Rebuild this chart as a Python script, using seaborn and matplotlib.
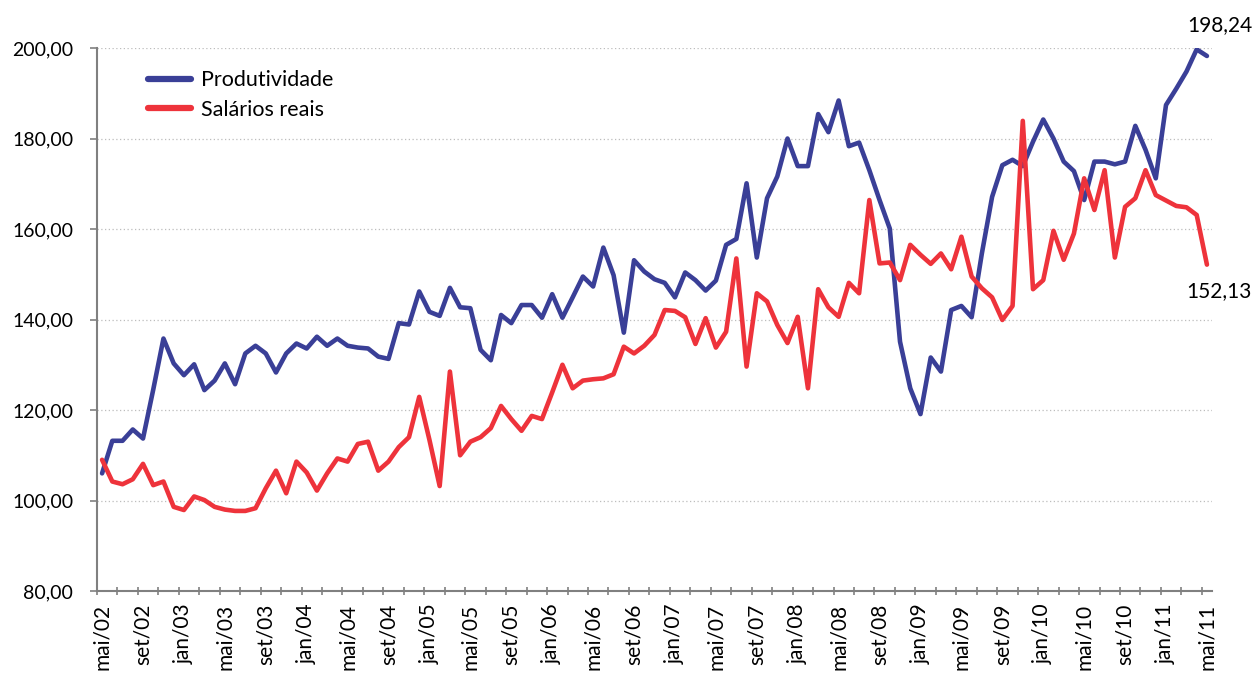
#!/usr/bin/env python3
"""Produtividade vs salários reais, mai/02 - mai/11 (índice)."""

import pandas as pd
import matplotlib.pyplot as plt
import matplotlib.ticker as mticker
import seaborn as sns

# ============================== DATA ========================================
PRODUTIVIDADE = [
    106.0, 113.2, 113.2, 115.7, 113.7, 124.5, 135.8, 130.3, 127.7, 130.1,
    124.4, 126.5, 130.3, 125.7, 132.5, 134.2, 132.5, 128.3, 132.5, 134.7,
    133.6, 136.2, 134.2, 135.8, 134.2, 133.8, 133.6, 131.8, 131.3, 139.2,
    138.9, 146.2, 141.7, 140.8, 147.0, 142.7, 142.5, 133.3, 131.0, 141.0,
    139.2, 143.2, 143.2, 140.4, 145.6, 140.4, 144.9, 149.5, 147.3, 155.9,
    149.8, 137.1, 153.1, 150.6, 148.9, 148.1, 144.9, 150.4, 148.7, 146.4,
    148.6, 156.5, 157.8, 170.1, 153.7, 166.8, 171.6, 180.0, 173.9, 173.9,
    185.4, 181.4, 188.4, 178.3, 179.1, 173.0, 166.4, 160.1, 135.1, 124.8,
    119.1, 131.6, 128.5, 142.1, 143.0, 140.5, 154.6, 167.1, 174.1, 175.3,
    173.9, 179.3, 184.2, 180.0, 174.9, 172.8, 166.4, 174.9, 174.9, 174.3,
    174.9, 182.8, 177.5, 171.2, 187.4, 191.0, 194.8, 199.7, 198.24,
]

SALARIOS_REAIS = [
    109.0, 104.2, 103.6, 104.7, 108.1, 103.4, 104.2, 98.6, 97.9, 100.9,
    100.1, 98.6, 98.0, 97.7, 97.7, 98.3, 102.7, 106.6, 101.6, 108.6,
    106.2, 102.2, 106.0, 109.3, 108.6, 112.5, 113.0, 106.6, 108.6, 111.8,
    114.0, 122.9, 113.4, 103.2, 128.5, 110.0, 113.0, 114.0, 116.0, 120.9,
    118.0, 115.4, 118.7, 118.0, 123.9, 130.0, 124.8, 126.5, 126.8, 127.0,
    127.9, 134.0, 132.5, 134.2, 136.6, 142.1, 141.9, 140.5, 134.6, 140.3,
    133.8, 137.3, 153.5, 129.6, 145.8, 144.0, 138.8, 134.8, 140.6, 124.8,
    146.7, 142.7, 140.6, 148.1, 145.8, 166.4, 152.4, 152.6, 148.7, 156.5,
    154.3, 152.3, 154.6, 151.1, 158.3, 149.5, 146.9, 144.9, 139.9, 143.0,
    183.9, 146.7, 148.7, 159.6, 153.2, 159.0, 171.2, 164.2, 173.0, 153.7,
    164.9, 166.8, 173.0, 167.5, 166.3, 165.1, 164.8, 163.1, 152.13,
]

TICK_LABELS = [
    "mai/02", "set/02", "jan/03", "mai/03", "set/03", "jan/04", "mai/04",
    "set/04", "jan/05", "mai/05", "set/05", "jan/06", "mai/06", "set/06",
    "jan/07", "mai/07", "set/07", "jan/08", "mai/08", "set/08", "jan/09",
    "mai/09", "set/09", "jan/10", "mai/10", "set/10", "jan/11", "mai/11",
]

SERIES = ["Produtividade", "Salários reais"]
COLORS = ["#3A3F97", "#EE333B"]
# ============================================================================


def main():
    sns.set_theme(style="white")
    plt.rcParams["font.family"] = ["Lato", "DejaVu Sans"]
    plt.rcParams["text.color"] = "black"
    plt.rcParams["xtick.color"] = "black"
    plt.rcParams["ytick.color"] = "black"

    n = len(PRODUTIVIDADE)
    df = pd.DataFrame({
        "mes": list(range(n)) * 2,
        "valor": PRODUTIVIDADE + SALARIOS_REAIS,
        "serie": [SERIES[0]] * n + [SERIES[1]] * n,
    })

    fig = plt.figure(figsize=(12.56, 6.82), dpi=100)
    ax = fig.add_axes([0.0772, 0.1334, 0.8878, 0.7962])

    sns.lineplot(
        data=df, x="mes", y="valor", hue="serie",
        palette=dict(zip(SERIES, COLORS)), linewidth=3.3, ax=ax,
    )

    ax.set_xlim(-0.5, n - 0.5)
    ax.set_ylim(80, 200)
    ax.set_xlabel("")
    ax.set_ylabel("")

    # y axis
    ax.yaxis.set_major_locator(mticker.MultipleLocator(20))
    ax.yaxis.set_major_formatter(
        mticker.FuncFormatter(lambda v, _: f"{v:.2f}".replace(".", ","))
    )
    ax.tick_params(axis="y", which="major", length=5, width=1.2,
                   color="#808080", labelcolor="black", labelsize=14,
                   pad=12, left=True)
    ax.grid(axis="y", color="#BDBDBD", linestyle=(0, (1, 2)), linewidth=0.9)

    # x axis: labels every 4 months, ticks every 2 months
    ax.set_xticks(range(0, n, 4))
    ax.set_xticklabels(TICK_LABELS, rotation=90)
    ax.set_xticks([i - 0.5 for i in range(0, n + 1, 2)], minor=True)
    ax.tick_params(axis="x", which="major", length=0, labelsize=15,
                   labelcolor="black", pad=9)
    ax.tick_params(axis="x", which="minor", length=6, width=1.2,
                   direction="inout", color="#808080", bottom=True)

    for side in ["top", "right"]:
        ax.spines[side].set_visible(False)
    for side in ["left", "bottom"]:
        ax.spines[side].set_color("#808080")
        ax.spines[side].set_linewidth(1.5)

    # end labels
    ax.annotate("198,24", (n - 1, PRODUTIVIDADE[-1]), xytext=(9, 22),
                textcoords="offset points", ha="center", va="center",
                fontsize=15)
    ax.annotate("152,13", (n - 1, SALARIOS_REAIS[-1]), xytext=(9, -19),
                textcoords="offset points", ha="center", va="center",
                fontsize=15)

    leg = ax.legend(loc="upper left", bbox_to_anchor=(0.028, 0.995),
                    frameon=False, fontsize=15.5, handlelength=2.0,
                    handletextpad=0.5, labelspacing=0.45)
    for line in leg.get_lines():
        line.set_linewidth(4.5)

    fig.savefig("out.png", dpi=100)
    plt.close(fig)


if __name__ == "__main__":
    main()
